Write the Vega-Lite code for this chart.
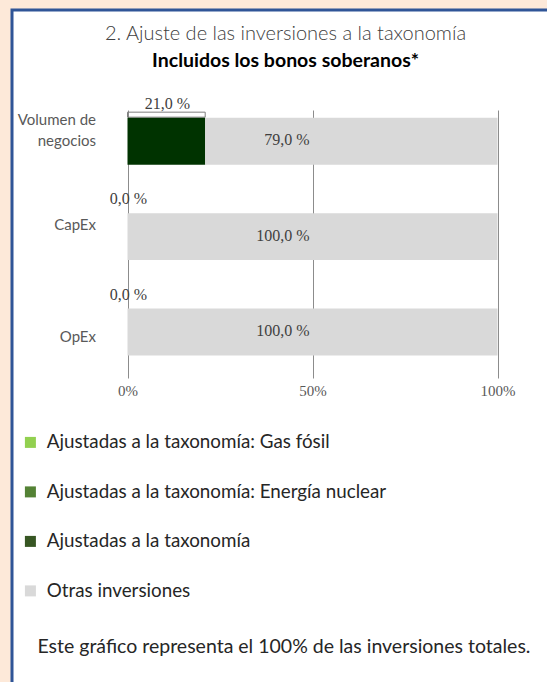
{
  "$schema": "https://vega.github.io/schema/vega-lite/v6.json",
  "width": 535,
  "height": 672,
  "autosize": {"type": "none"},
  "padding": {"left": 12, "top": 10, "right": 0, "bottom": 0},
  "background": "#fde9d9",
  "config": {
    "view": {"fill": "white", "stroke": "#2f5597", "strokeWidth": 3, "strokeDash": [535, 1207, 672]},
    "font": "Lato"
  },
  "title": {
    "text": "2. Ajuste de las inversiones a la taxonomía",
    "subtitle": "Incluidos los bonos soberanos*",
    "anchor": "middle",
    "frame": "group",
    "dx": 6,
    "offset": -60,
    "font": "Lato",
    "fontSize": 20,
    "fontWeight": 300,
    "color": "#404040",
    "subtitleFont": "Lato",
    "subtitleFontSize": 19.5,
    "subtitleFontWeight": "bold",
    "subtitleColor": "#000000",
    "subtitlePadding": 8
  },
  "data": {
    "values": [
      {"cat": "Volumen de negocios", "serie": "Ajustadas a la taxonomía", "value": 21.0},
      {"cat": "Volumen de negocios", "serie": "Otras inversiones", "value": 79.0},
      {"cat": "CapEx", "serie": "Ajustadas a la taxonomía", "value": 0.0},
      {"cat": "CapEx", "serie": "Otras inversiones", "value": 100.0},
      {"cat": "OpEx", "serie": "Ajustadas a la taxonomía", "value": 0.0},
      {"cat": "OpEx", "serie": "Otras inversiones", "value": 100.0}
    ]
  },
  "transform": [
    {"calculate": "replace(format(datum.value, '.1f'), '.', ',') + ' %'", "as": "lab"}
  ],
  "encoding": {
    "y": {
      "field": "cat",
      "type": "nominal",
      "sort": ["Volumen de negocios", "CapEx", "OpEx"],
      "scale": {"range": [100, 368], "paddingInner": 0.508, "paddingOuter": 0.158, "align": 0.255},
      "axis": {
        "offset": -115.5,
        "domain": false,
        "ticks": false,
        "tickSize": 0,
        "grid": false,
        "title": null,
        "labelPadding": 32,
        "labelFont": "Lato",
        "labelFontSize": 15,
        "labelColor": "#595959",
        "labelLineHeight": 21,
        "labelBaseline": "middle",
        "labelOffset": {
          "condition": [
            {"test": "datum.value == 'Volumen de negocios'", "value": -21},
            {"test": "datum.value == 'CapEx'", "value": -12}
          ],
          "value": 5
        },
        "labelExpr": "datum.label == 'Volumen de negocios' ? ['Volumen de', 'negocios'] : datum.label"
      }
    }
  },
  "layer": [
    {
      "transform": [{"filter": "datum.serie == 'Ajustadas a la taxonomía' && datum.value > 0"}],
      "mark": {"type": "bar", "height": 5, "yOffset": -26.5, "fill": null, "stroke": "#7f7f7f", "strokeWidth": 1},
      "encoding": {
        "x": {"field": "value", "type": "quantitative", "stack": "zero", "title": "Este gráfico representa el 100% de las inversiones totales."}
      }
    },
    {
      "mark": {"type": "bar"},
      "encoding": {
        "x": {
          "field": "value",
          "type": "quantitative",
          "stack": "zero",
          "title": "Este gráfico representa el 100% de las inversiones totales.",
          "scale": {"domain": [0, 100], "range": [115.5, 485.5], "nice": false},
          "axis": {
            "orient": "top",
            "values": [0, 50, 100],
            "labelExpr": "datum.value + '%'",
            "offset": -380,
            "domain": false,
            "ticks": false,
            "tickSize": 0,
            "grid": true,
            "gridColor": "#8c8c8c",
            "gridWidth": 1,
            "labelFlush": false,
            "labelFont": "Liberation Serif",
            "labelFontSize": 15,
            "labelColor": "#595959",
            "labelPadding": 0,
            "labelBaseline": "middle",
            "titleFont": "Lato",
            "titleFontSize": 19.5,
            "titleFontWeight": "normal",
            "titleColor": "#262626",
            "titleX": 25,
            "titleY": 256,
            "titleAlign": "left",
            "titleBaseline": "middle"
          }
        },
        "fill": {
          "field": "serie",
          "type": "nominal",
          "scale": {"domain": ["Ajustadas a la taxonomía", "Otras inversiones"], "range": ["#003300", "#d9d9d9"]},
          "legend": null
        },
        "order": {"field": "serie", "type": "nominal", "sort": "ascending"}
      }
    },
    {
      "transform": [
        {"filter": "datum.serie == 'Ajustadas a la taxonomía'"},
        {"calculate": "datum.value / 2", "as": "mid"}
      ],
      "mark": {"type": "text", "font": "Liberation Serif", "fontSize": 16, "color": "#404040", "baseline": "middle", "align": "center", "yOffset": -37.5, "dx": 1},
      "encoding": {
        "x": {"field": "mid", "type": "quantitative", "title": "Este gráfico representa el 100% de las inversiones totales."},
        "text": {"field": "lab"}
      }
    },
    {
      "transform": [{"filter": "datum.serie == 'Otras inversiones'"}],
      "mark": {"type": "text", "font": "Liberation Serif", "fontSize": 16, "color": "#404040", "baseline": "middle", "align": "right", "dx": -3, "yOffset": -1},
      "encoding": {
        "x": {"datum": 50},
        "text": {"field": "lab"}
      }
    },
    {
      "mark": {"type": "point", "filled": true, "shape": "square", "opacity": 0},
      "encoding": {
        "color": {
          "field": "serie",
          "type": "nominal",
          "scale": {
            "domain": ["Ajustadas a la taxonomía: Gas fósil", "Ajustadas a la taxonomía: Energía nuclear", "Ajustadas a la taxonomía", "Otras inversiones"],
            "range": ["#92d050", "#548235", "#375623", "#d9d9d9"]
          },
          "legend": {
            "orient": "none",
            "legendX": 9,
            "legendY": 423,
            "direction": "vertical",
            "title": null,
            "padding": 0,
            "symbolType": "square",
            "symbolSize": 121,
            "symbolStrokeWidth": 0,
            "labelFont": "Lato",
            "labelFontSize": 18.8,
            "labelColor": "#262626",
            "labelLimit": 600,
            "labelOffset": 7,
            "rowPadding": 29.5,
            "values": ["Ajustadas a la taxonomía: Gas fósil", "Ajustadas a la taxonomía: Energía nuclear", "Ajustadas a la taxonomía", "Otras inversiones"],
            "symbolOpacity": 1
          }
        }
      }
    }
  ]
}
